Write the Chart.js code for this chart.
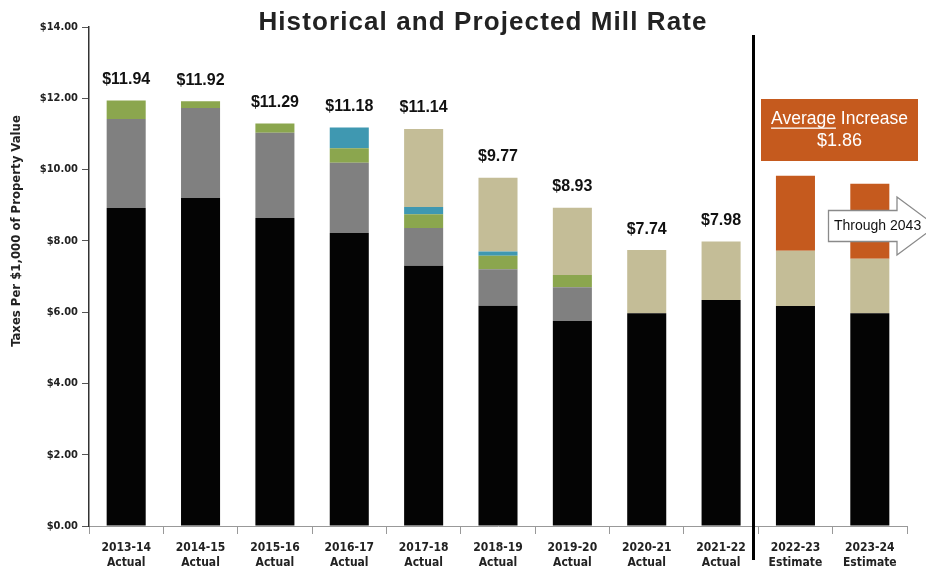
<!DOCTYPE html>
<html>
<head>
<meta charset="utf-8">
<script src="https://cdn.jsdelivr.net/npm/chart.js@4"></script>
<style>
html,body{margin:0;padding:0;background:#fff;}
#wrap{width:926px;height:569px;position:relative;}
</style>
</head>
<body>
<div id="wrap"><canvas id="c" width="926" height="569"></canvas></div>
<script>
const categories = [["2013-14","Actual"],["2014-15","Actual"],["2015-16","Actual"],["2016-17","Actual"],["2017-18","Actual"],["2018-19","Actual"],["2019-20","Actual"],["2020-21","Actual"],["2021-22","Actual"],["2022-23","Estimate"],["2023-24","Estimate"]];
const seriesBlack  = [8.92, 9.20, 8.64, 8.22, 7.30, 6.18, 5.75, 5.97, 6.34, 6.17, 5.97];
const seriesGray   = [2.50, 2.53, 2.39, 1.97, 1.06, 1.02, 0.95, 0, 0, 0, 0];
const seriesGreen  = [0.52, 0.19, 0.26, 0.41, 0.39, 0.38, 0.34, 0, 0, 0, 0];
const seriesBlue   = [0, 0, 0, 0.58, 0.20, 0.12, 0, 0, 0, 0, 0];
const seriesTan    = [0, 0, 0, 0, 2.19, 2.07, 1.89, 1.77, 1.64, 1.55, 1.53];
const seriesOrange = [0, 0, 0, 0, 0, 0, 0, 0, 0, 2.11, 2.10];
const totalLabels  = ["$11.94","$11.92","$11.29","$11.18","$11.14","$9.77","$8.93","$7.74","$7.98","",""];
const yTicks = [0, 2, 4, 6, 8, 10, 12, 14];

const tickFont = "'Liberation Sans Narrow','DejaVu Sans Condensed','Liberation Sans',sans-serif";

const overlay = {
  id: 'overlay',
  afterDatasetsDraw(chart) {
    const ctx = chart.ctx;
    const xs = chart.scales.x, ys = chart.scales.y;
    // total labels
    ctx.save();
    ctx.font = "bold 16px 'Liberation Sans', Arial, sans-serif";
    ctx.fillStyle = '#111';
    ctx.textAlign = 'center';
    ctx.textBaseline = 'middle';
    totalLabels.forEach((t, i) => {
      if (!t) return;
      const tot = seriesBlack[i] + seriesGray[i] + seriesGreen[i] + seriesBlue[i] + seriesTan[i] + seriesOrange[i];
      ctx.fillText(t, xs.getPixelForValue(i), ys.getPixelForValue(tot) - 21);
    });
    ctx.restore();

    // title
    ctx.save();
    ctx.font = "bold 26px 'Liberation Sans', Arial, sans-serif";
    try { ctx.letterSpacing = '1.1px'; } catch (e) {}
    ctx.fillStyle = '#222';
    ctx.textAlign = 'center';
    ctx.textBaseline = 'middle';
    ctx.fillText('Historical and Projected Mill Rate', 483, 23);
    ctx.restore();

    // y-axis title
    ctx.save();
    ctx.translate(17, 231);
    ctx.rotate(-Math.PI / 2);
    ctx.font = "bold 13px " + tickFont;
    ctx.fillStyle = '#222';
    ctx.textAlign = 'center';
    ctx.textBaseline = 'middle';
    ctx.fillText('Taxes Per $1,000 of Property Value', 0, 0);
    ctx.restore();

    // vertical divider
    ctx.save();
    ctx.fillStyle = '#000';
    ctx.fillRect(752, 35, 3, 525);
    ctx.restore();

    // orange box
    ctx.save();
    ctx.fillStyle = '#C55A1E';
    ctx.fillRect(761, 99, 157, 62);
    ctx.fillStyle = '#fff';
    ctx.font = "17.5px 'Liberation Sans', Arial, sans-serif";
    ctx.textBaseline = 'middle';
    ctx.textAlign = 'left';
    const l1 = 'Average', l2 = ' Increase';
    const w1 = ctx.measureText(l1).width, w2 = ctx.measureText(l2).width;
    const sx = 839.5 - (w1 + w2) / 2;
    ctx.fillText(l1, sx, 119);
    ctx.fillText(l2, sx + w1, 119);
    ctx.fillRect(sx, 127.5, w1, 1.3);
    ctx.textAlign = 'center';
    ctx.font = "18px 'Liberation Sans', Arial, sans-serif";
    ctx.fillText('$1.86', 839.5, 141);
    ctx.restore();

    // arrow
    ctx.save();
    ctx.beginPath();
    ctx.moveTo(828.5, 210.5);
    ctx.lineTo(897, 210.5);
    ctx.lineTo(897, 197);
    ctx.lineTo(936, 226);
    ctx.lineTo(897, 255);
    ctx.lineTo(897, 241.5);
    ctx.lineTo(828.5, 241.5);
    ctx.closePath();
    ctx.fillStyle = '#fff';
    ctx.fill();
    ctx.strokeStyle = '#8a8a8a';
    ctx.lineWidth = 1.3;
    ctx.stroke();
    ctx.fillStyle = '#111';
    ctx.font = "14px 'Liberation Sans', Arial, sans-serif";
    ctx.textAlign = 'left';
    ctx.textBaseline = 'middle';
    ctx.fillText('Through 2043', 834, 226);
    ctx.restore();
  }
};

const mk = (label, data, color) => ({ label, data, backgroundColor: color, borderWidth: 0, categoryPercentage: 1.0, barPercentage: 0.525 });

new Chart(document.getElementById('c'), {
  type: 'bar',
  data: {
    labels: categories,
    datasets: [
      mk('Base', seriesBlack, '#040404'),
      mk('Gray', seriesGray, '#808080'),
      mk('Green', seriesGreen, '#8BA64E'),
      mk('Blue', seriesBlue, '#3F98B1'),
      mk('Tan', seriesTan, '#C4BD97'),
      mk('Projected', seriesOrange, '#C55A1E')
    ]
  },
  options: {
    responsive: false,
    animation: false,
    layout: { padding: { left: 0, right: 19, top: 27, bottom: 0 } },
    plugins: { legend: { display: false }, tooltip: { enabled: false }, title: { display: false } },
    scales: {
      x: {
        stacked: true,
        grid: { display: true, drawOnChartArea: false, offset: true, tickLength: 8, color: '#999' },
        border: { display: true, color: '#999', width: 1 },
        ticks: { color: '#222', font: { family: tickFont, size: 12, weight: 'bold' }, padding: 7, maxRotation: 0, autoSkip: false },
        afterFit(s) { s.height = 43; }
      },
      y: {
        stacked: true,
        min: 0, max: 14,
        afterBuildTicks(s) { s.ticks = yTicks.map(v => ({ value: v })); },
        grid: { display: true, drawOnChartArea: false, tickLength: 7, color: '#555' },
        border: { display: true, color: '#333', width: 1.5 },
        ticks: { color: '#222', font: { family: tickFont, size: 11, weight: 'bold' }, padding: 4,
          callback: v => '$' + Number(v).toFixed(2) },
        title: { display: false },
        afterFit(s) { s.width = 89; }
      }
    }
  },
  plugins: [overlay]
});
</script>
</body>
</html>
